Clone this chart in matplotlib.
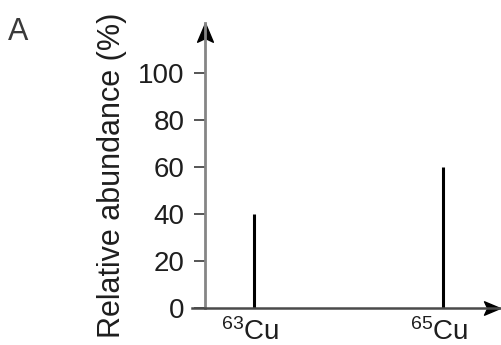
import numpy as np
import matplotlib.pyplot as plt
from matplotlib.path import Path
from matplotlib.transforms import ScaledTranslation

plt.rcParams['font.family'] = ['Liberation Sans', 'DejaVu Sans']
plt.rcParams['mathtext.default'] = 'regular'

isotopes = [r'$^{63}$Cu', r'$^{65}$Cu']
masses = [63, 65]
abundance = [40, 60]
yticks = [0, 20, 40, 60, 80, 100]

fig = plt.figure(figsize=(5.02, 3.45), dpi=100)
ax = fig.add_axes([192 / 502, 37 / 345, 308 / 502, 285 / 345])

ax.vlines(masses, 0, abundance, color='black', lw=2.2)

x0 = 62.481
ax.set_xlim(62.344, 65.603)
ax.set_ylim(0, 121.3)

for s in ['top', 'right']:
    ax.spines[s].set_visible(False)
ax.spines['left'].set_position(('data', x0))
ax.spines['left'].set_color('#858585')
ax.spines['left'].set_linewidth(2.0)
ax.spines['bottom'].set_color('#4a4a4a')
ax.spines['bottom'].set_linewidth(1.8)

# arrow heads, tip at the origin of the marker path
up = Path([(0, 0), (-0.42, -1), (0, -0.8), (0.42, -1), (0, 0)])
right = Path([(0, 0), (-1, 0.42), (-0.8, 0), (-1, -0.42), (0, 0)])
ax.plot([x0], [1], marker=up, ms=27, color='black', clip_on=False,
        transform=ax.get_xaxis_transform())
ax.plot([1], [0], marker=right, ms=23, color='black', clip_on=False,
        transform=ax.get_yaxis_transform())

ax.set_yticks(yticks)
ax.tick_params(axis='y', direction='out', length=8, width=1.4, color='#555555',
               labelsize=20, pad=6.5, labelcolor='#1e1e1e')
ax.set_xticks(masses)
ax.set_xticklabels(isotopes)
ax.tick_params(axis='x', length=0, labelsize=20, pad=7, labelcolor='#1e1e1e')
shift = ScaledTranslation(-4 / 100, 0, fig.dpi_scale_trans)
for lab in ax.get_xticklabels():
    lab.set_transform(lab.get_transform() + shift)

fig.text(112 / 502, 1 - 175 / 345, 'Relative abundance (%)', rotation=90,
         ha='center', va='center', fontsize=22, color='#1e1e1e')
fig.text(8 / 502, 1 - 32 / 345, 'A', ha='left', va='center', fontsize=22,
         color='#3a3a3a', fontweight='light')

fig.savefig('out.png', dpi=100)
